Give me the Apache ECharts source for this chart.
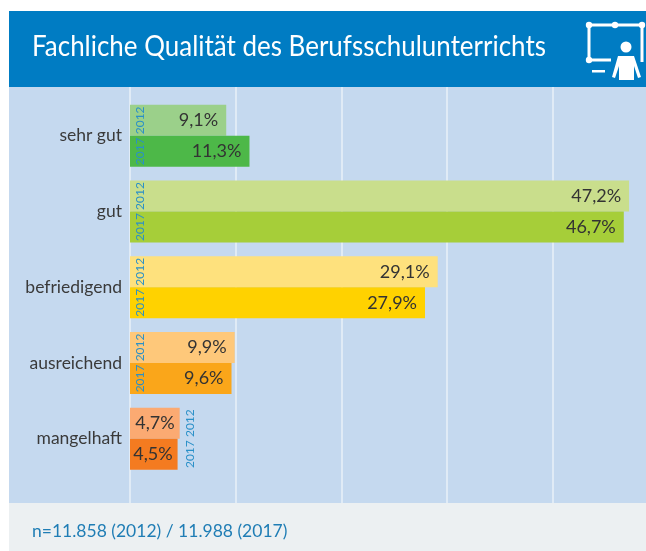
<!DOCTYPE html>
<html><head><meta charset="utf-8">
<style>html,body{margin:0;padding:0;background:#fff}#c{width:646px;height:551px}</style>
<script src="https://cdn.jsdelivr.net/npm/echarts@6/dist/echarts.min.js"></script>
</head><body><div id="c"></div>
<script>
const titleText = 'Fachliche Qualität des Berufsschulunterrichts';
const footerText = 'n=11.858 (2012) / 11.988 (2017)';
const categories = ['sehr gut','gut','befriedigend','ausreichend','mangelhaft'];
const values2012 = [9.1,47.2,29.1,9.9,4.7];
const values2017 = [11.3,46.7,27.9,9.6,4.5];
const colors2012 = ['#9bd08a','#c9de8c','#fee17d','#fec87a','#fbaa72'];
const colors2017 = ['#4db848','#a6ce39','#ffd200','#faa61a','#f47b20'];
const years = ['2012','2017'];
const FONT = 'Lato,"Open Sans",sans-serif';

const chart = echarts.init(document.getElementById('c'), null, {renderer:'canvas'});
const barSeries = (name, vals, cols) => ({
  type:'bar', name, xAxisIndex:0, yAxisIndex:0, barWidth:31, barGap:'0%', z:3,
  data: vals.map((v,i)=>({value:v,itemStyle:{color:cols[i]},label:{distance:v<6?5:8}})),
  label:{show:true,position:'insideRight',color:'#333',fontFamily:FONT,fontSize:18,
    formatter:p=>String(p.value).replace('.',',')+'%'}
});
const yearData = [];
categories.forEach((c,i)=>years.forEach((y,j)=>yearData.push([i,j])));
const W = '#ffffff';
chart.setOption({
  animation:false,
  backgroundColor:'#ffffff',
  textStyle:{fontFamily:FONT},
  title:[
    {text:footerText,left:27,top:517,textStyle:{color:'#1f7db5',fontFamily:FONT,fontSize:17.5,fontWeight:'normal'}}
  ],
  grid:[
    {left:130,top:98,width:516,height:378.5},
    {left:130,top:87,width:516,height:416}
  ],
  xAxis:[
    {gridIndex:0,type:'value',min:0,max:48.8,show:false},
    {gridIndex:1,type:'value',min:0,max:48.8,interval:10,
      axisLine:{show:false},axisTick:{show:false},axisLabel:{show:false},
      splitLine:{show:true,showMaxLine:false,lineStyle:{color:'#e8f0f8',width:1.5}}}
  ],
  yAxis:[
    {gridIndex:0,type:'category',inverse:true,data:categories,
      axisLine:{show:false},axisTick:{show:false},
      axisLabel:{color:'#3a3a3a',fontFamily:FONT,fontSize:17.5,margin:8}},
    {gridIndex:1,type:'value',min:0,max:1,show:false}
  ],
  series:[
    {type:'line',xAxisIndex:1,yAxisIndex:1,data:[],silent:true},
    barSeries('2012',values2012,colors2012),
    barSeries('2017',values2017,colors2017),
    {type:'custom',xAxisIndex:0,yAxisIndex:0,z:5,silent:true,
      encode:{x:-1,y:0},
      data:yearData,
      renderItem:(params,api)=>{
        const cat=api.value(0), yr=api.value(1);
        const longest=Math.max(values2012[cat],values2017[cat]);
        const xv = longest<6 ? api.coord([longest,cat])[0]+10 : api.coord([0,cat])[0]+10;
        const yc = api.coord([0,cat])[1]+(yr===0?-15.5:15.5);
        return {type:'text',x:xv,y:yc,rotation:Math.PI/2,
          style:{text:years[yr],fill:'#2a90c8',font:'12px '+FONT,align:'center',verticalAlign:'middle'}};
      }}
  ],
  graphic:[
    {type:'rect',z:-10,shape:{x:9,y:87,width:637,height:416},style:{fill:'#c5d9ef'}},
    {type:'rect',z:-10,shape:{x:9,y:11,width:637,height:76},style:{fill:'#007cc3'}},
    {type:'rect',z:-10,shape:{x:9,y:503,width:637,height:48},style:{fill:'#ecf0f2'}},
    {type:'text',z:10,x:32,y:47,scaleX:0.895,style:{text:titleText,fill:'#fff',font:'29px '+FONT,textAlign:'left',textVerticalAlign:'middle'}},
    {type:'polyline',z:10,shape:{points:[[611,60],[589,60],[589,25],[642,25],[642,62]]},style:{stroke:W,fill:'none',lineWidth:3}},
    {type:'circle',z:10,shape:{cx:589,cy:25,r:3.2},style:{fill:W}},
    {type:'circle',z:10,shape:{cx:615,cy:25,r:3.2},style:{fill:W}},
    {type:'circle',z:10,shape:{cx:642,cy:25,r:3.2},style:{fill:W}},
    {type:'circle',z:10,shape:{cx:589,cy:60,r:3.2},style:{fill:W}},
    {type:'circle',z:10,shape:{cx:626,cy:47,r:5.5},style:{fill:W}},
    {type:'polygon',z:10,shape:{points:[[618,56],[634,56],[641,77],[638,78],[634,66],[634,80],[619,80],[619,66],[615,78],[612,77]]},style:{fill:W}},
    {type:'rect',z:10,shape:{x:592,y:70,width:13,height:2.5},style:{fill:W}}
  ]
});
</script></body></html>
